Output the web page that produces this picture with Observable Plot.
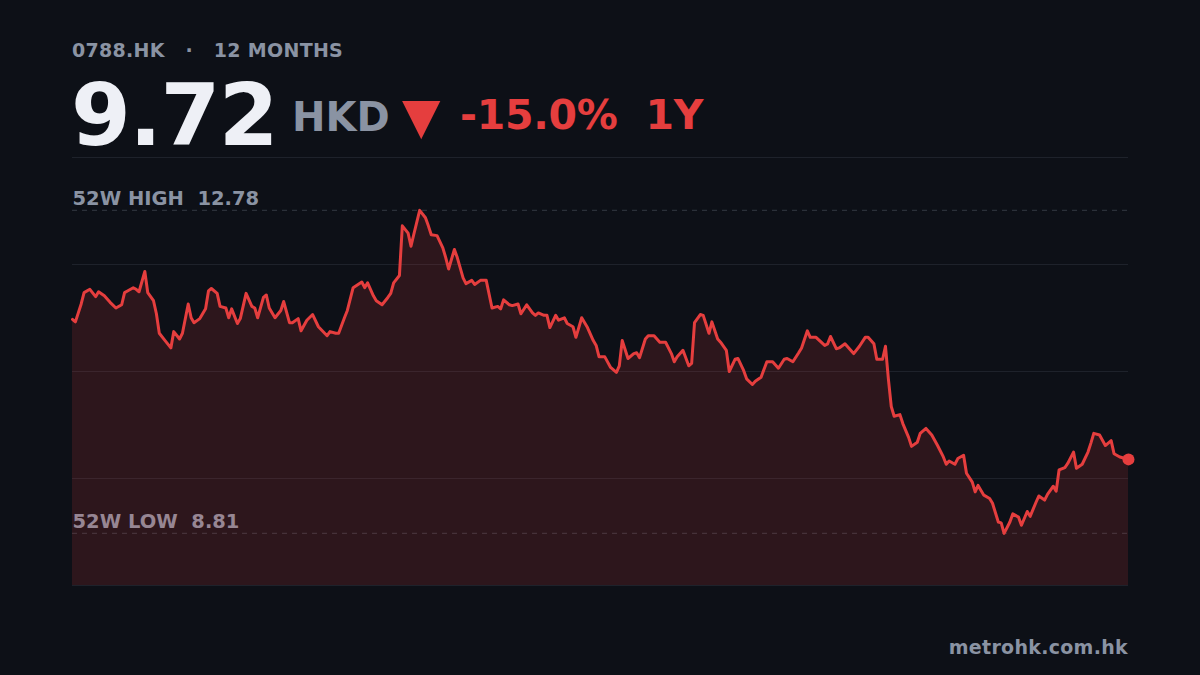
<!DOCTYPE html>
<html>
<head>
<meta charset="utf-8">
<script src="https://cdn.jsdelivr.net/npm/d3@7"></script>
<script src="https://cdn.jsdelivr.net/npm/@observablehq/plot@0.6"></script>
<style>
  html, body { margin: 0; padding: 0; background: #0d1017; }
  body { width: 1200px; height: 675px; position: relative; overflow: hidden; font-family: "DejaVu Sans", sans-serif; font-weight: bold; }
  .abs { position: absolute; white-space: pre; line-height: 1; }
  #ticker { left: 72px; top: 41px; font-size: 19px; color: #8a93a3; letter-spacing: 0.3px; }
  #price { left: 71px; top: 72px; font-size: 86px; color: #eef0f6; letter-spacing: -1.5px; }
  #ccy { left: 292px; top: 97px; font-size: 40px; color: #8a93a3; }
  #arrow { left: 402px; top: 91px; font-size: 50px; color: #e53e3e; }
  #chg { left: 460px; top: 95px; font-size: 41px; color: #e53e3e; letter-spacing: -0.3px; }
  #src { right: 72px; top: 638px; font-size: 19px; color: #8a93a3; letter-spacing: 0.3px; }
  #chart { position: absolute; left: 0; top: 150px; }
</style>
</head>
<body>
<div id="ticker" class="abs"></div>
<div id="price" class="abs"></div>
<div id="ccy" class="abs"></div>
<div id="arrow" class="abs">▼</div>
<div id="chg" class="abs"></div>
<div id="src" class="abs"></div>
<div id="chart"></div>
<script>
// ---- data ----
const ticker = "0788.HK";
const periodLabel = "12 MONTHS";
const lastPrice = 9.72;
const currency = "HKD";
const changePct = -15.0;
const periodShort = "1Y";
const high52 = 12.78;
const low52 = 8.81;
const source = "metrohk.com.hk";
const yDomain = [8.17, 13.43];
const xDomain = [0, 365];

// calendar day offset from the start of the 12-month window
const days = [0,1,3,4,6,8,9,11,13,15,17,18,19,21,22,23,25,26,28,29,30,32,34,35,37,38,40,41,42,44,46,47,48,50,51,53,54,55,57,
58,60,62,63,64,66,67,68,70,72,73,75,76,78,79,81,83,85,88,89,91,92,94,95,97,100,101,102,104,105,107,109,110,111,113,114,116,
117,118,120,122,123,124,126,128,129,130,132,133,135,136,138,139,141,143,145,147,148,149,151,152,154,155,157,159,160,161,163,164,
165,167,168,170,171,173,174,176,178,180,181,182,184,186,188,189,190,192,194,195,196,198,199,201,203,205,207,208,209,211,213,214,
215,217,218,220,221,223,224,226,227,229,230,232,233,235,236,238,240,242,244,246,247,249,251,252,254,255,257,260,261,262,264,265,
267,270,272,274,275,277,278,280,281,282,283,284,286,287,289,290,292,293,295,297,299,301,302,303,305,306,308,309,311,312,313,315,
317,318,320,321,322,324,325,327,328,330,331,333,334,336,337,339,340,341,343,344,346,347,349,351,352,353,355,357,359,360,362,364,365];

// closing price, HKD
const closes = [11.44,11.41,11.63,11.77,11.81,11.72,11.78,11.73,11.65,11.58,11.62,11.77,11.79,11.83,11.81,11.78,12.03,11.77,11.67,11.51,11.27,11.18,11.09,11.29,11.20,11.27,11.63,11.46,11.40,11.45,11.57,11.79,11.82,11.76,11.60,11.58,11.46,11.57,11.39,
11.45,11.76,11.60,11.58,11.46,11.71,11.74,11.58,11.46,11.55,11.66,11.40,11.40,11.45,11.30,11.43,11.50,11.35,11.24,11.29,11.27,11.27,11.46,11.55,11.83,11.90,11.83,11.89,11.73,11.67,11.62,11.71,11.76,11.89,11.98,12.59,12.50,
12.34,12.49,12.78,12.69,12.59,12.48,12.47,12.32,12.20,12.06,12.30,12.20,11.95,11.88,11.92,11.87,11.92,11.92,11.58,11.60,11.57,11.68,11.62,11.61,11.63,11.51,11.62,11.52,11.49,11.52,11.49,11.49,
11.34,11.49,11.43,11.46,11.39,11.35,11.22,11.46,11.34,11.18,11.12,10.98,10.98,10.85,10.79,10.87,11.18,10.96,11.02,11.03,10.97,11.20,11.24,11.24,11.16,11.16,11.02,10.92,10.98,11.06,10.87,10.90,
11.40,11.50,11.49,11.27,11.41,11.20,11.16,11.06,10.80,10.95,10.96,10.81,10.71,10.64,10.68,10.73,10.92,10.92,10.84,10.95,10.96,10.92,11.03,11.09,11.30,11.22,11.22,11.12,11.14,11.23,11.08,11.09,
11.14,11.02,11.11,11.22,11.22,11.14,10.95,10.95,11.11,10.71,10.37,10.25,10.27,10.16,9.99,9.88,9.93,10.04,10.10,10.02,9.89,9.75,9.66,9.70,9.66,9.73,9.77,9.55,9.44,9.32,9.40,9.28,
9.24,9.18,8.95,8.94,8.81,8.95,9.05,9.01,8.91,9.08,9.02,9.19,9.27,9.22,9.29,9.39,9.33,9.59,9.62,9.67,9.81,9.61,9.66,9.81,9.92,10.04,10.02,9.89,9.95,9.79,9.75,9.73,9.72];

const data = days.map((d, i) => ({day: d, close: closes[i]}));
const last = data[data.length - 1];
const gridValues = d3.range(5).map(i => yDomain[0] + i * (yDomain[1] - yDomain[0]) / 4);

// ---- header text ----
const nb = "\u00a0";
document.getElementById("ticker").textContent = `${ticker}${nb}${nb}${nb}·${nb}${nb}${nb}${periodLabel}`;
document.getElementById("price").textContent = lastPrice.toFixed(2);
document.getElementById("ccy").textContent = currency;
document.getElementById("chg").textContent = `${changePct.toFixed(1)}%${nb}${nb}${periodShort}`;
document.getElementById("src").textContent = source;

const red = "#e53e3e";
const chart = Plot.plot({
  width: 1200,
  height: 445,
  marginTop: 7,
  marginBottom: 10,
  marginLeft: 72,
  marginRight: 72,
  style: {background: "transparent", fontFamily: "DejaVu Sans, sans-serif"},
  x: {domain: xDomain, axis: null},
  y: {domain: yDomain, axis: null},
  marks: [
    Plot.ruleY(gridValues, {stroke: "#1e222b", strokeWidth: 1}),
    Plot.text([high52], {x: () => xDomain[0], y: d => d, text: d => `52W HIGH${nb}${nb}${d.toFixed(2)}`,
      textAnchor: "start", lineAnchor: "bottom", dy: -5, fill: "#8a93a3", fontSize: 19.5, fontWeight: "bold"}),
    Plot.text([low52], {x: () => xDomain[0], y: d => d, text: d => `52W LOW${nb}${nb}${d.toFixed(2)}`,
      textAnchor: "start", lineAnchor: "bottom", dy: -5, fill: "#8a93a3", fontSize: 19.5, fontWeight: "bold"}),
    Plot.ruleY([high52, low52], {stroke: "#2b3039", strokeWidth: 1.2, strokeDasharray: "5,5"}),
    Plot.areaY(data, {x: "day", y1: () => yDomain[0], y2: "close", fill: red, fillOpacity: 0.15}),
    Plot.lineY(data, {x: "day", y: "close", stroke: red, strokeWidth: 3, strokeLinejoin: "round"}),
    Plot.dot([last], {x: "day", y: "close", r: 6, fill: red})
  ]
});
document.getElementById("chart").append(chart);
</script>
</body>
</html>
